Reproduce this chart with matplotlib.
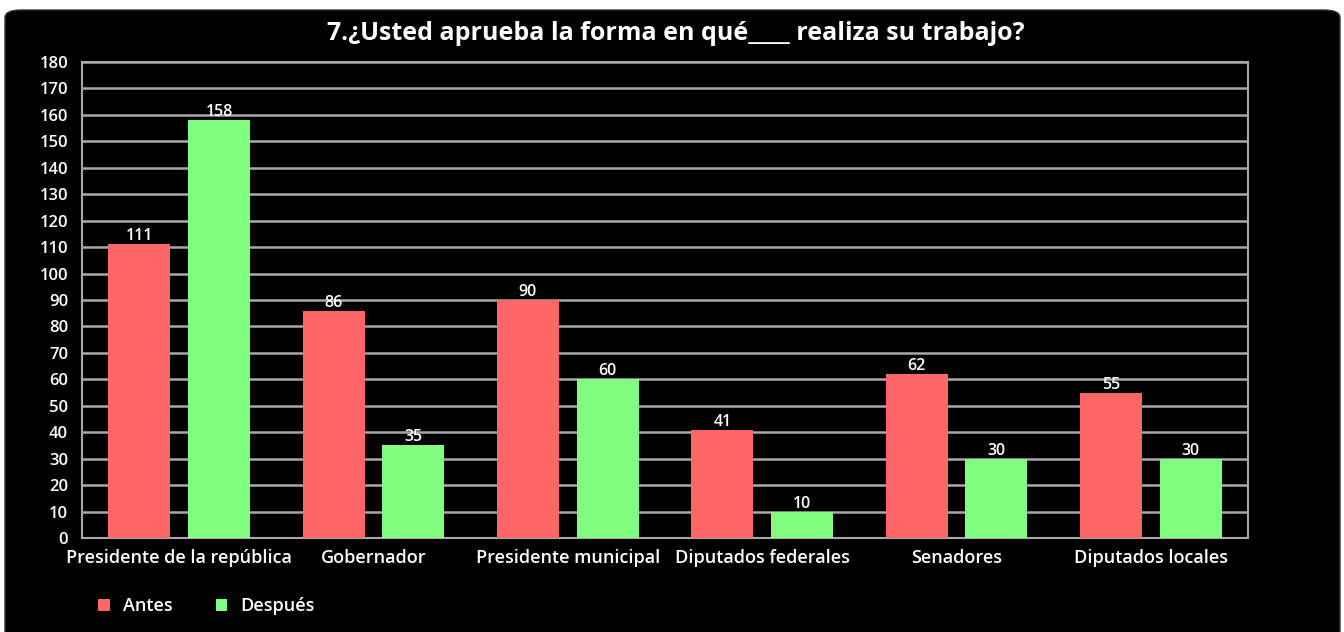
import numpy as np
import matplotlib.pyplot as plt
from matplotlib.patches import FancyBboxPatch

categories = ['Presidente de la república', 'Gobernador', 'Presidente municipal',
              'Diputados federales', 'Senadores', 'Diputados locales']
antes = [111, 86, 90, 41, 62, 55]
despues = [158, 35, 60, 10, 30, 30]
series_names = ['Antes', 'Después']

plt.rcParams['font.family'] = ['Open Sans', 'DejaVu Sans']
plt.rcParams['font.weight'] = 'semibold'

fig = plt.figure(figsize=(13.44, 6.32), dpi=100)
fig.patch.set_facecolor('white')
bg = FancyBboxPatch((5 / 1344, -0.05), 1335 / 1344, 1 - 10 / 632 + 0.05,
                    boxstyle='round,pad=0,rounding_size=0.012',
                    transform=fig.transFigure, facecolor='black', edgecolor='#333333',
                    linewidth=1, zorder=-10)
fig.patches.append(bg)

ax = fig.add_axes([82 / 1344, 1 - 538 / 632, (1248 - 82) / 1344, (538 - 62) / 632])
ax.set_facecolor('black')

x = np.arange(len(categories))
w = 0.32
off = 0.205
b1 = ax.bar(x - off, antes, w, color='#ff6666', label=series_names[0], zorder=3)
b2 = ax.bar(x + off, despues, w, color='#80ff80', label=series_names[1], zorder=3)
for bars in (b1, b2):
    ax.bar_label(bars, padding=0, color='white', fontsize=11.5)

ax.set_xlim(-0.5, len(categories) - 0.5)
ax.set_ylim(0, 180)
ax.set_yticks(np.arange(0, 181, 10))
ax.set_xticks(x)
ax.set_xticklabels(categories)
ax.grid(axis='y', color='#a8a8a8', linewidth=1.8, zorder=1)
ax.tick_params(axis='both', length=0, colors='white', labelsize=12)
ax.tick_params(axis='x', pad=8, labelsize=13)
ax.tick_params(axis='y', pad=10)
for s in ax.spines.values():
    s.set_color('#a8a8a8')
    s.set_linewidth(1.5)

fig.text(676 / 1344, 1 - 33 / 632, '7.¿Usted aprueba la forma en qué____ realiza su trabajo?',
         ha='center', va='center', color='white', fontsize=18, fontweight='bold')

fig.legend(handles=[b1, b2], loc='center left', bbox_to_anchor=(82 / 1344, 1 - 606 / 632),
           ncol=2, frameon=False, labelcolor='white', fontsize=13,
           handlelength=0.65, handleheight=0.65, columnspacing=2.4, handletextpad=0.7)

fig.savefig('out.png', dpi=100, facecolor='white')
